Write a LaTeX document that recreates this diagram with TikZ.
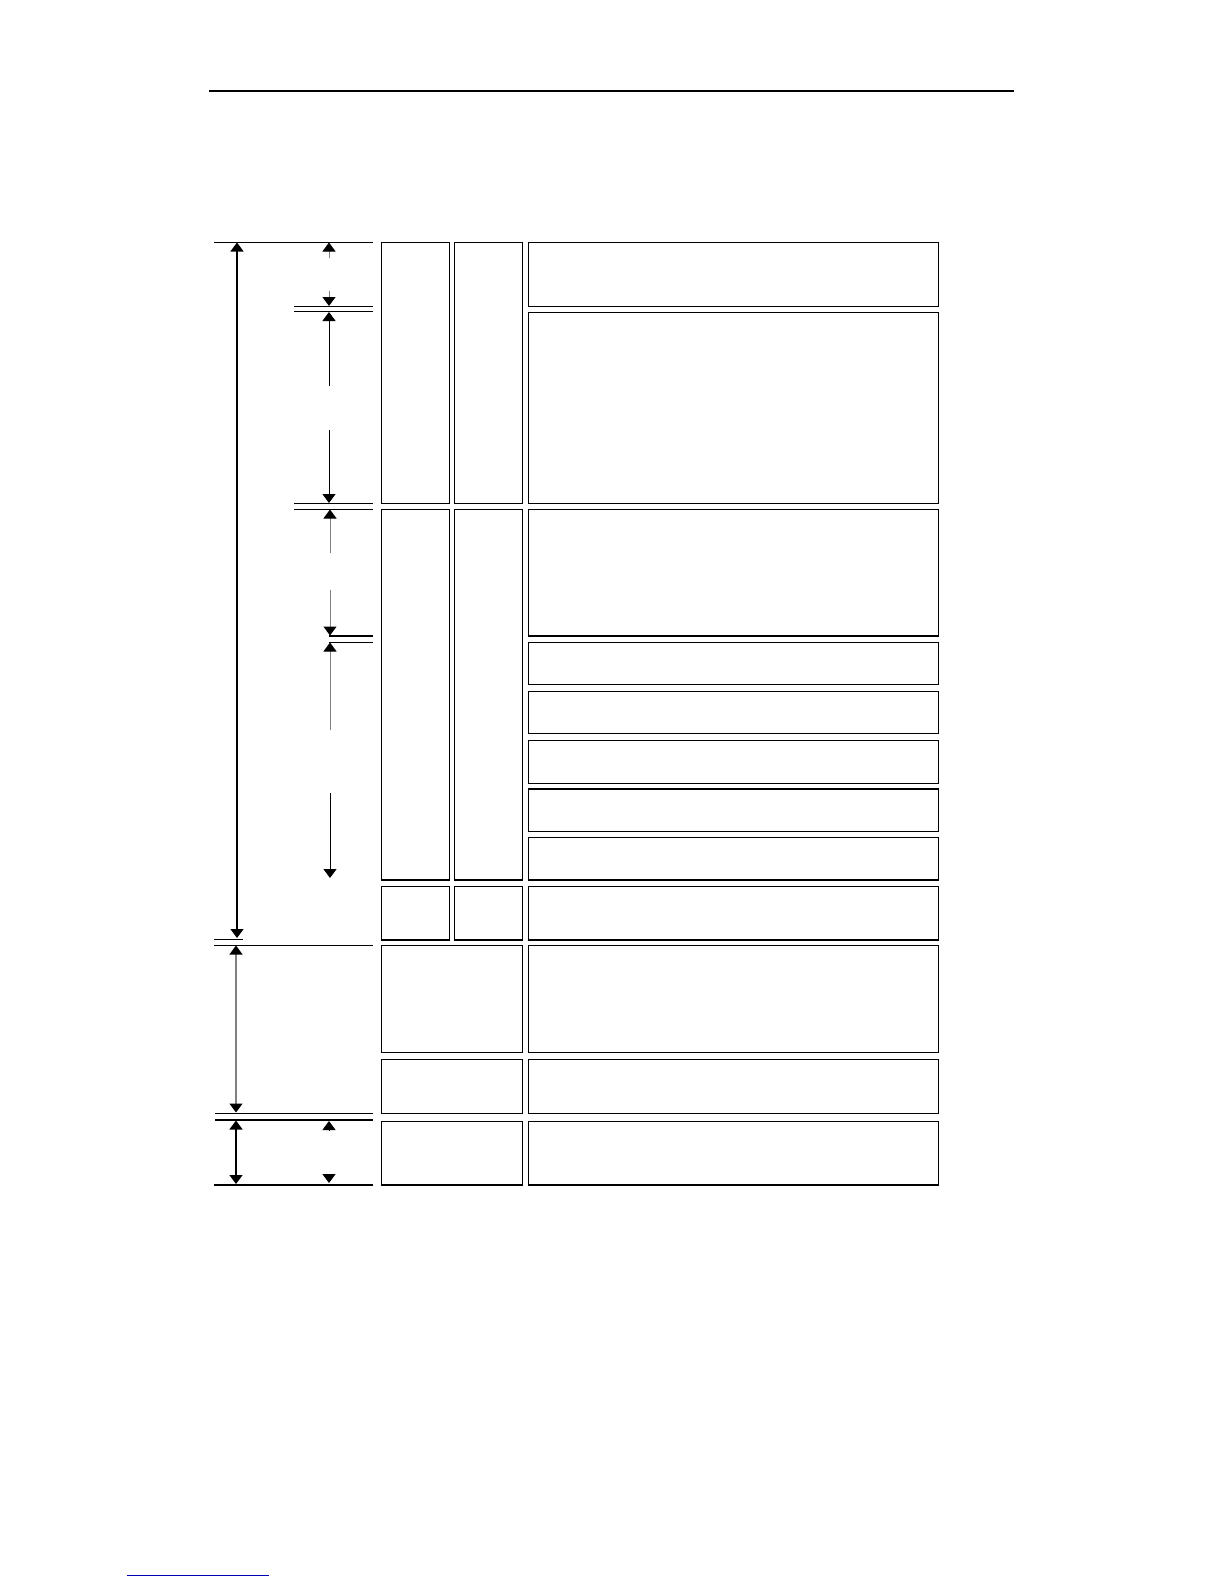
\documentclass[tikz,border=0pt]{standalone}
\usetikzlibrary{arrows.meta}
\newcommand{\cellbox}[5]{\node[cell,minimum width={(#4-#2)*0.5pt},minimum height={(#5-#3)*0.5pt}] (#1) at ({(#2+#4)/2},{(#3+#5)/2}) {};}
\begin{document}
\begin{tikzpicture}[x=0.5pt,y=-0.5pt,>={Triangle[width=6.5pt,length=4.5pt,color=black]},
  cell/.style={draw,line width=.7pt,inner sep=0pt,outer sep=0pt},
  rule/.style={line width=.7pt},
  dim/.style={<->,line width=.6pt},
  half/.style={->,line width=.5pt},
  faint/.style={draw=gray}]
\useasboundingbox (0,0) rectangle (1224,1584);
% page header and footer
\draw[line width=.6pt] (209,91) -- (1014,91);
\draw[line width=.5pt,blue!70!black] (127,1575) -- (269,1575);
% left and middle columns
\cellbox{a1}{381.7}{242.3}{449.3}{503.3}
\cellbox{b1}{454.3}{242.3}{522.7}{503.3}
\cellbox{a2}{381.7}{509.3}{449.3}{880}
\cellbox{b2}{454.3}{509.3}{522.7}{880}
\cellbox{a3}{381.7}{886.7}{449.3}{940}
\cellbox{b3}{454.3}{886.7}{522.7}{940}
\cellbox{ab4}{381.7}{945.3}{522.7}{1052.3}
\cellbox{ab5}{381.7}{1059.3}{522.7}{1113.3}
\cellbox{ab6}{381.7}{1121.7}{522.7}{1185}
% right column
\foreach \n/\a/\b in {1/242.3/306.3, 2/312.3/503.3, 3/509.3/636, 4/642.3/684.3,
  5/691.7/733.3, 6/740.7/783.3, 7/789/831.7, 8/837.3/880, 9/886.7/940,
  10/945.3/1052.3, 11/1059.3/1113.3, 12/1121.7/1185}
  \cellbox{c\n}{528.3}{\a}{938.7}{\b}
% rules
\draw[rule] (214,242.3) -- (373,242.3);
\draw[rule] (294,306.7) -- (373,306.7) (294,311.7) -- (373,311.7);
\draw[rule] (294,503.3) -- (373,503.3) (294,509.3) -- (373,509.3);
\draw[rule] (329,636) -- (373,636) (329,642.3) -- (373,642.3);
\draw[rule] (214,939.3) -- (243,939.3) (214,945.3) -- (373,945.3);
\draw[rule] (215,1113.3) -- (373,1113.3) (215,1120) -- (373,1120);
\draw[rule] (214,1185) -- (373,1185);
% dimension ends
\coordinate (l0) at (237,242.5);
\coordinate (l1) at (237,938);
\coordinate (l2) at (236,945.5);
\coordinate (l3) at (236,1112.5);
\coordinate (l4) at (236,1120.5);
\coordinate (l5) at (236,1184);
\coordinate (s0) at (329,242.5);  \coordinate (s0m) at (329,258);
\coordinate (s1m) at (329,291);   \coordinate (s1) at (329,306);
\coordinate (s2) at (329,312);    \coordinate (s2m) at (329,386);
\coordinate (s3m) at (329,430);   \coordinate (s3) at (329,503);
\coordinate (s4) at (330,509.5);  \coordinate (s4m) at (330,553);
\coordinate (s5m) at (330,590);   \coordinate (s5) at (330,635.5);
\coordinate (s6) at (330,642.5);  \coordinate (s6m) at (330,730);
\coordinate (s7m) at (330,793);   \coordinate (s7) at (330,878);
\coordinate (s8m) at (329,1130);  \coordinate (s8) at (329,1121);
\coordinate (s9m) at (329,1174);  \coordinate (s9) at (329,1183);
% arrows
\draw[dim] (l0) -- (l1);
\draw[dim,faint] (l2) -- (l3);
\draw[dim] (l4) -- (l5);
\draw[half,faint] (s0m) -- (s0);
\draw[half,faint] (s1m) -- (s1);
\draw[half] (s2m) -- (s2);
\draw[half] (s3m) -- (s3);
\draw[half,faint] (s4m) -- (s4);
\draw[half,faint] (s5m) -- (s5);
\draw[half,faint] (s6m) -- (s6);
\draw[half] (s7m) -- (s7);
\draw[half] (s8m) -- (s8);
\draw[half] (s9m) -- (s9);
\end{tikzpicture}
\end{document}
